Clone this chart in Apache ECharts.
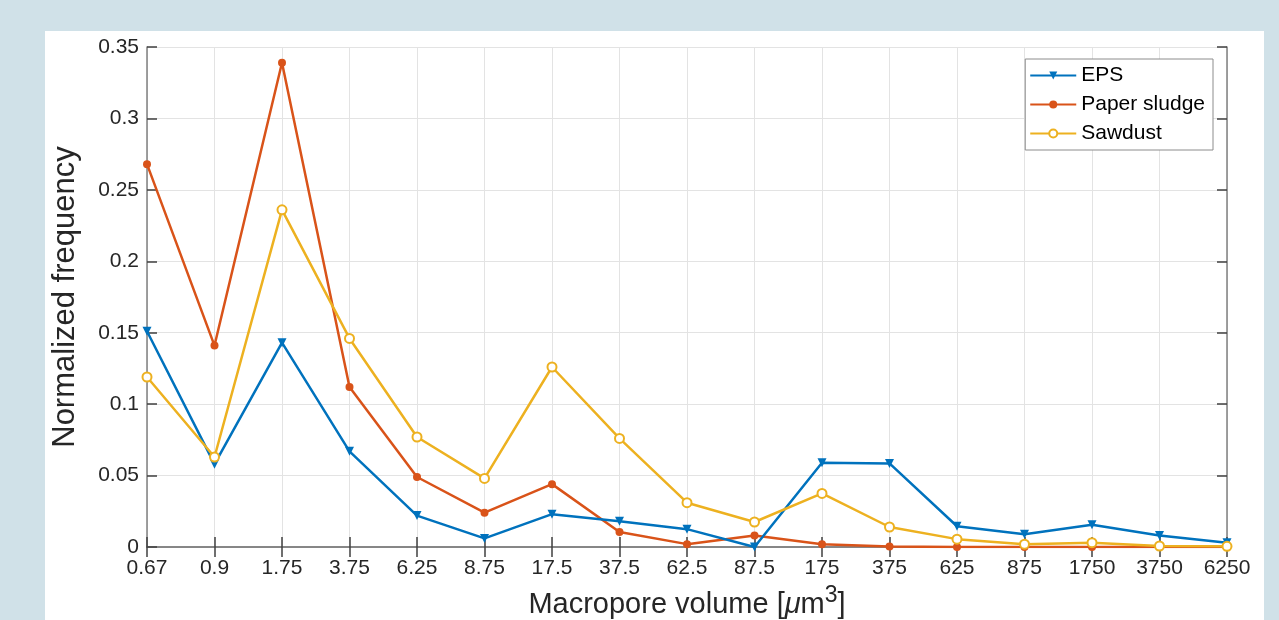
<!DOCTYPE html>
<html>
<head>
<meta charset="utf-8">
<script src="https://cdn.jsdelivr.net/npm/echarts@6/dist/echarts.min.js"></script>
<style>
  html, body { margin: 0; padding: 0; background: #d0e1e8; }
  #panel { position: absolute; left: 45px; top: 31px; width: 1219px; height: 589px; background: #ffffff; }
  #chart { position: absolute; left: 0; top: 0; width: 1279px; height: 620px; }
</style>
</head>
<body>
<div id="panel"></div>
<div id="chart"></div>
<script>
const categories = ['0.67', '0.9', '1.75', '3.75', '6.25', '8.75', '17.5', '37.5', '62.5', '87.5', '175', '375', '625', '875', '1750', '3750', '6250'];
const eps = [0.151, 0.058, 0.143, 0.067, 0.022, 0.006, 0.023, 0.018, 0.0125, 0.0, 0.059, 0.0585, 0.0145, 0.009, 0.0155, 0.008, 0.003];
const paperSludge = [0.268, 0.141, 0.339, 0.112, 0.049, 0.024, 0.044, 0.0105, 0.002, 0.008, 0.002, 0.0003, 0.0, 0.0, 0.0, 0.0, 0.0];
const sawdust = [0.119, 0.063, 0.236, 0.146, 0.077, 0.048, 0.126, 0.076, 0.031, 0.0175, 0.0375, 0.014, 0.0055, 0.002, 0.003, 0.0007, 0.0005];
const yTicks = [0, 0.05, 0.1, 0.15, 0.2, 0.25, 0.3, 0.35];

const FONT = "'Liberation Sans', Arial, Helvetica, sans-serif";
const TXT = '#262626';
const AX = '#808080';

const chart = echarts.init(document.getElementById('chart'), null, { renderer: 'canvas' });
chart.setOption({
  backgroundColor: 'transparent',
  animation: false,
  grid: { left: 147, right: 52, top: 47, bottom: 73, containLabel: false, outerBoundsMode: 'none' },
  legend: {
    right: 66, top: 59, orient: 'vertical',
    itemWidth: 46, itemHeight: 10, itemGap: 8,
    padding: [6, 8, 6, 4],
    borderColor: '#8c8c8c', borderWidth: 1, backgroundColor: '#ffffff',
    textStyle: { fontFamily: FONT, fontSize: 21, color: '#000000' },
    data: ['EPS', 'Paper sludge', 'Sawdust']
  },
  xAxis: [{
    type: 'category', data: categories, boundaryGap: false, position: 'bottom',
    axisLine: { lineStyle: { color: AX, width: 1.5 } },
    axisTick: { inside: true, length: 10, alignWithLabel: true, lineStyle: { color: '#404040', width: 1.5 } },
    axisLabel: { fontFamily: FONT, fontSize: 21, color: TXT, margin: 11, interval: 0 },
    splitLine: { show: true, lineStyle: { color: '#e3e3e3', width: 1 } },
    name: 'Macropore volume [{mu|μ}m{sup|3}]',
    nameLocation: 'middle', nameGap: 34,
    nameTextStyle: {
      fontFamily: FONT, fontSize: 29, color: TXT,
      rich: {
        mu: { fontFamily: FONT, fontSize: 29, fontStyle: 'italic', color: TXT },
        sup: { fontFamily: FONT, fontSize: 23, color: TXT, verticalAlign: 'top', padding: [0, 0, 20, 0] }
      }
    }
  }, {
    type: 'category', data: categories, boundaryGap: false, position: 'top',
    axisLine: { lineStyle: { color: AX, width: 1.5 } },
    axisTick: { inside: true, length: 10, alignWithLabel: true, lineStyle: { color: '#404040', width: 1.5 } },
    axisLabel: { show: false }, splitLine: { show: false }
  }],
  yAxis: [{
    type: 'value', min: 0, max: 0.35, interval: 0.05, position: 'left',
    axisLine: { show: true, lineStyle: { color: AX, width: 1.5 } },
    axisTick: { show: true, inside: true, length: 10, lineStyle: { color: '#404040', width: 1.5 } },
    axisLabel: { fontFamily: FONT, fontSize: 21, color: TXT, margin: 8,
      formatter: v => { const t = yTicks.find(x => Math.abs(x - v) < 1e-9); return String(+((t ?? v).toFixed(2))); } },
    splitLine: { show: true, lineStyle: { color: '#e3e3e3', width: 1 } },
    name: 'Normalized frequency', nameLocation: 'middle', nameGap: 66,
    nameTextStyle: { fontFamily: FONT, fontSize: 31, color: TXT }
  }, {
    type: 'value', min: 0, max: 0.35, interval: 0.05, position: 'right',
    axisLine: { show: true, lineStyle: { color: AX, width: 1.5 } },
    axisTick: { show: true, inside: true, length: 10, lineStyle: { color: '#404040', width: 1.5 } },
    axisLabel: { show: false }, splitLine: { show: false }
  }],
  series: [
    {
      name: 'EPS', type: 'line', data: eps, color: '#0072BD',
      symbol: 'triangle', symbolRotate: 180, symbolSize: 9,
      lineStyle: { width: 2.5 }, itemStyle: { color: '#0072BD' }, z: 3
    },
    {
      name: 'Paper sludge', type: 'line', data: paperSludge, color: '#D95319',
      symbol: 'circle', symbolSize: 8,
      lineStyle: { width: 2.5 }, itemStyle: { color: '#D95319' }, z: 2
    },
    {
      name: 'Sawdust', type: 'line', data: sawdust, color: '#EDB120',
      symbol: 'emptyCircle', symbolSize: 9,
      lineStyle: { width: 2.5 }, itemStyle: { color: '#EDB120', borderWidth: 2 }, z: 4
    }
  ]
});
</script>
</body>
</html>
